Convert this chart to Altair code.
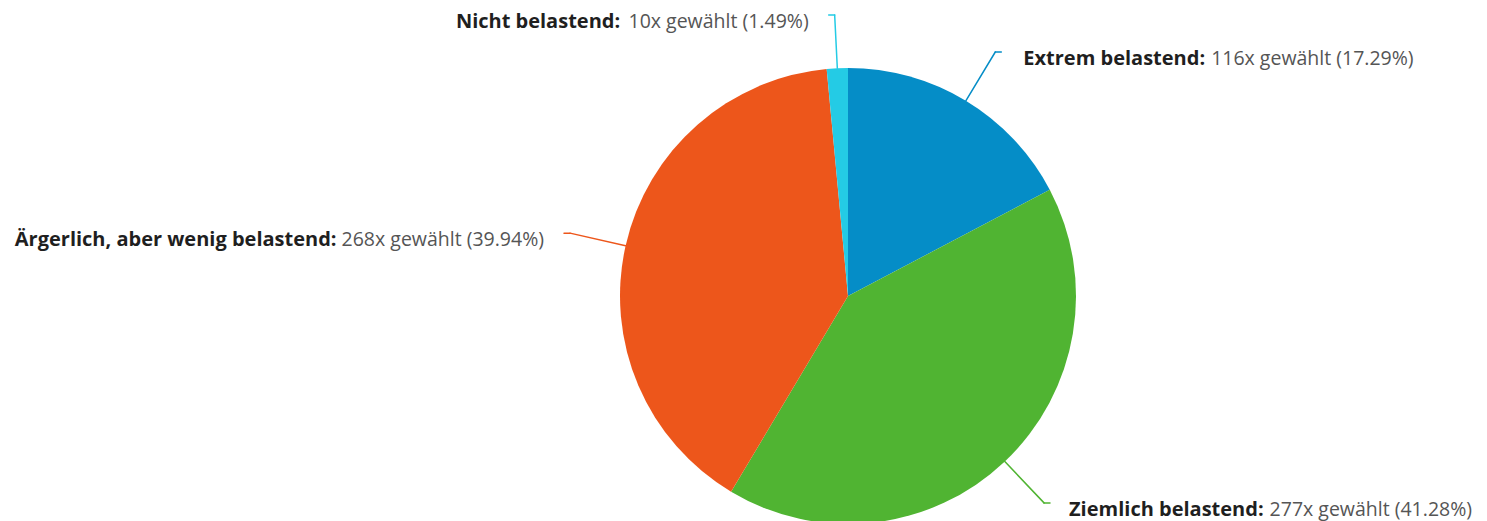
import altair as alt
import pandas as pd

# ---- data ----
categories = ["Extrem belastend", "Ziemlich belastend",
              "Ärgerlich, aber wenig belastend", "Nicht belastend"]
counts = [116, 277, 268, 10]
colors = ["#058DC7", "#50B432", "#ED561B", "#24CBE5"]

df = pd.DataFrame({"idx": list(range(len(categories))), "cat": categories, "n": counts})

# ---- layout constants (view coordinates) ----
CX, CY = 840, 288      # pie centre
R = 228                # pie radius
RL = 285               # radius where connector bends
HOOK = 6               # short horizontal part of connector
GAP = 20               # gap between connector end and text
TOP = 7                # topmost label anchor
DY = 7                 # text centre below connector end
FSB, FSN = 20, 19.5    # font sizes bold / normal
KB, KNAR = 11.32, 4.3  # approx. bold char width, reduction for narrow chars
KN = 9.5               # approx. normal char width
SPR, SPL = 6, 8        # space between bold and normal part

color_enc = alt.Color("cat:N", scale=alt.Scale(domain=categories, range=colors), legend=None)

pie = alt.Chart(df).mark_arc(outerRadius=R).encode(
    theta=alt.Theta("n:Q", stack=True),
    order=alt.Order("idx:Q", sort="ascending"),
    color=color_enc,
    x=alt.value(CX),
    y=alt.value(CY),
)

base = (
    alt.Chart(df)
    .transform_joinaggregate(total="sum(n)")
    .transform_window(cum="sum(n)", sort=[alt.SortField("idx")], frame=[None, 0])
    .transform_calculate(mid="(datum.cum - datum.n/2) / datum.total * 2 * PI")
    .transform_calculate(side="sin(datum.mid) >= 0 ? 1 : -1")
    .transform_calculate(ex=f"{CX} + {R} * sin(datum.mid)")
    .transform_calculate(ey=f"{CY} - {R} * cos(datum.mid)")
    .transform_calculate(rx=f"{CX} + {RL} * sin(datum.mid)")
    .transform_calculate(ry=f"max({CY} - {RL} * cos(datum.mid), {TOP})")
    .transform_calculate(ax=f"datum.rx + datum.side * {HOOK}")
    .transform_calculate(ty=f"datum.ry + {DY}")
    .transform_calculate(bold="datum.cat + ':'")
    .transform_calculate(
        normal="datum.n + 'x gewählt (' + format(datum.n / datum.total * 100, '.2f') + '%)'"
    )
    .transform_calculate(
        bw=f"length(datum.bold) * {KB} - length(replace(datum.bold, regexp('[^il:,.]', 'g'), '')) * {KNAR}"
    )
    .transform_calculate(nw=f"length(datum.normal) * {KN}")
)

conn1 = base.mark_rule(strokeWidth=1.5, strokeCap="round").encode(
    x=alt.X("ex:Q", scale=None), y=alt.Y("ey:Q", scale=None),
    x2="rx:Q", y2="ry:Q", color=color_enc,
)
conn2 = base.mark_rule(strokeWidth=1.5, strokeCap="round").encode(
    x=alt.X("rx:Q", scale=None), y=alt.Y("ry:Q", scale=None),
    x2="ax:Q", y2="ry:Q", color=color_enc,
)

right = base.transform_filter("datum.side > 0").transform_calculate(
    bx=f"datum.ax + {GAP} + datum.bw")
left = base.transform_filter("datum.side < 0").transform_calculate(
    bx=f"datum.ax - {GAP} - datum.nw - {SPL}")

bold_style = dict(baseline="middle", font="Open Sans", fontSize=FSB, fontWeight="bold", color="#1f1f1f")
norm_style = dict(baseline="middle", font="Open Sans", fontSize=FSN, color="#555555")

r_bold = right.transform_calculate(tx="datum.bx").mark_text(align="right", **bold_style).encode(
    x=alt.X("tx:Q", scale=None), y=alt.Y("ty:Q", scale=None), text="bold:N")

r_norm = right.transform_calculate(tx=f"datum.bx + {SPR}").mark_text(align="left", **norm_style).encode(
    x=alt.X("tx:Q", scale=None), y=alt.Y("ty:Q", scale=None), text="normal:N")

l_norm = left.transform_calculate(tx=f"datum.ax - {GAP}").mark_text(align="right", **norm_style).encode(
    x=alt.X("tx:Q", scale=None), y=alt.Y("ty:Q", scale=None), text="normal:N")

l_bold = left.transform_calculate(tx="datum.bx").mark_text(align="right", **bold_style).encode(
    x=alt.X("tx:Q", scale=None), y=alt.Y("ty:Q", scale=None), text="bold:N")

chart = (
    alt.layer(pie, conn1, conn2, r_bold, r_norm, l_norm, l_bold)
    .properties(width=1471, height=513, autosize=alt.AutoSizeParams(type="none"), padding=0)
    .configure_view(stroke=None)
)

chart.save("out.html", embed_options={"renderer": "svg", "actions": False})
